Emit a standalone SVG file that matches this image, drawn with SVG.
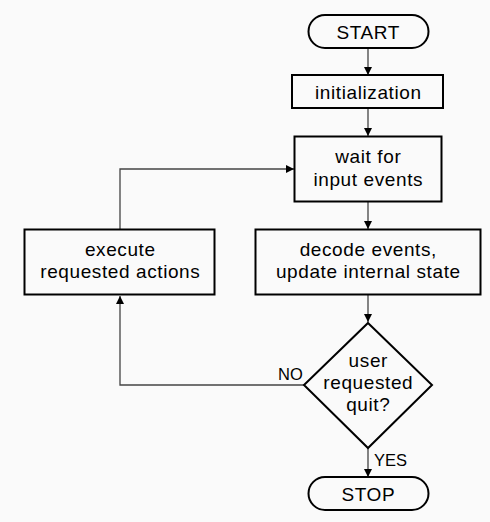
<svg xmlns="http://www.w3.org/2000/svg" width="490" height="522" viewBox="0 0 490 522">
<style>
.box{fill:#fafafa;stroke:#000;stroke-width:2}
.t{font-family:"Liberation Sans",Arial,sans-serif;font-size:19px;letter-spacing:0.6px;fill:#000;text-anchor:middle}
.lbl{font-family:"Liberation Sans",Arial,sans-serif;font-size:16.5px;fill:#000}
.c{fill:none;stroke:#444;stroke-width:1.3}
</style>
<defs>
<marker id="ah" viewBox="0 0 10 10" refX="10" refY="5" markerWidth="8" markerHeight="8" markerUnits="userSpaceOnUse" orient="auto">
<path d="M0,0 L10,5 L0,10 z" fill="#000"/>
</marker>
</defs>
<rect width="490" height="522" fill="#fafafa"/>
<g id="connectors">
<path class="c" d="M368,49 V75" marker-end="url(#ah)"/>
<path class="c" d="M368,109 V136" marker-end="url(#ah)"/>
<path class="c" d="M368,202 V229" marker-end="url(#ah)"/>
<path class="c" d="M368,295 V322" marker-end="url(#ah)"/>
<path class="c" d="M368,448 V477" marker-end="url(#ah)"/>
<path class="c" d="M304,385 H120 V296" marker-end="url(#ah)"/>
<path class="c" d="M120,229 V169 H294" marker-end="url(#ah)"/>
<text class="lbl" x="278" y="380">NO</text>
<text class="lbl" x="374" y="466">YES</text>
</g>
<g id="start">
<rect class="box" x="308.5" y="15" width="120" height="33" rx="16.5"/>
<text class="t" x="368.3" y="38.5">START</text>
</g>
<g id="init">
<rect class="box" x="292" y="75" width="151" height="33"/>
<text class="t" x="368.3" y="98.5">initialization</text>
</g>
<g id="wait">
<rect class="box" x="294.5" y="136.5" width="147" height="65"/>
<text class="t" x="368.3" y="163">wait for</text>
<text class="t" x="368.3" y="185.5">input events</text>
</g>
<g id="execute">
<rect class="box" x="24.5" y="229.5" width="190" height="65"/>
<text class="t" x="120.3" y="256">execute</text>
<text class="t" x="120.3" y="278">requested actions</text>
</g>
<g id="decode">
<rect class="box" x="255.5" y="229.5" width="225" height="65"/>
<text class="t" x="368.3" y="256">decode events,</text>
<text class="t" x="368.3" y="278">update internal state</text>
</g>
<g id="decision">
<path class="box" d="M368,323 L432,385 L368,448 L304,385 Z"/>
<text class="t" x="368.3" y="366.5">user</text>
<text class="t" x="368.3" y="388.5">requested</text>
<text class="t" x="368.3" y="410.5">quit?</text>
</g>
<g id="stop">
<rect class="box" x="308.5" y="477" width="120" height="33" rx="16.5"/>
<text class="t" x="368.3" y="500.5">STOP</text>
</g>
</svg>
